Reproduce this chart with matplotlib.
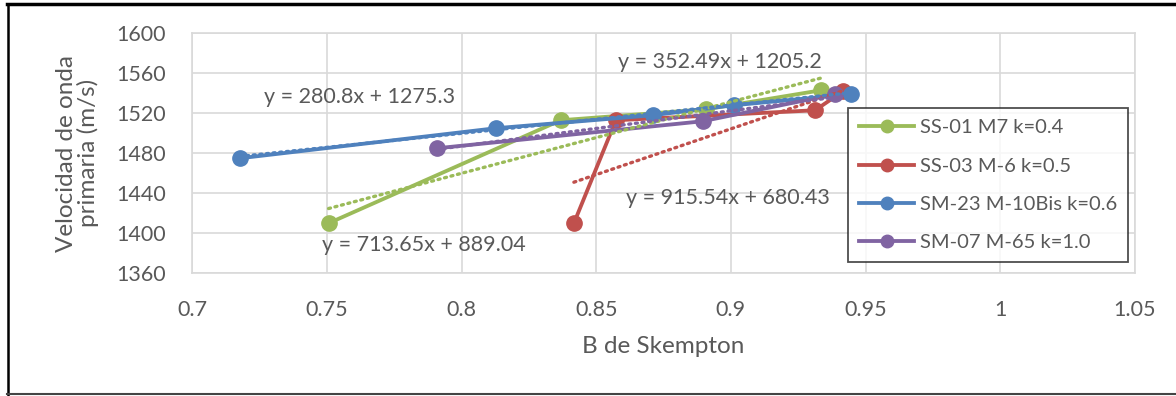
import matplotlib
matplotlib.use("Agg")
import matplotlib.pyplot as plt
import numpy as np
from matplotlib.lines import Line2D

plt.rcParams["font.family"] = ["Lato", "DejaVu Sans"]

# B de Skempton (x) vs velocidad de onda primaria (y)
ss01_x = [0.7506, 0.8368, 0.8907, 0.9335]
ss01_y = [1410, 1513, 1524, 1543]
ss03_x = [0.8417, 0.8573, 0.9313, 0.9416]
ss03_y = [1410, 1513, 1523, 1542]
sm23_x = [0.7177, 0.8126, 0.8709, 0.9010, 0.9447]
sm23_y = [1475, 1505, 1518, 1528, 1539]
sm07_x = [0.7909, 0.8895, 0.9385]
sm07_y = [1485, 1512, 1539]

labels = ["SS-01 M7 k=0.4", "SS-03 M-6 k=0.5", "SM-23 M-10Bis k=0.6", "SM-07 M-65 k=1.0"]
slopes = [713.65, 915.54, 280.8, 352.49]
intercepts = [889.04, 680.43, 1275.3, 1205.2]
eq_texts = ["y = 713.65x + 889.04", "y = 915.54x + 680.43",
            "y = 280.8x + 1275.3", "y = 352.49x + 1205.2"]
eq_pos = [(0.786, 1388), (0.899, 1435), (0.762, 1536), (0.896, 1571)]

colors = ["#9BBB59", "#C0504D", "#4F81BD", "#8064A2"]
text_color = "#595959"

series = [(ss01_x, ss01_y), (ss03_x, ss03_y), (sm23_x, sm23_y), (sm07_x, sm07_y)]

fig = plt.figure(figsize=(11.76, 3.96), dpi=100)
ax = fig.add_axes([0.1635, 0.31, 0.8015, 0.606])

for (xs, ys), c, lab in zip(series, colors, labels):
    ax.plot(xs, ys, color=c, lw=2.75, marker="o", ms=11, label=lab, zorder=3)

for (xs, ys), c, m, b in zip(series, colors, slopes, intercepts):
    tx = np.array([min(xs), max(xs)])
    ax.plot(tx, m * tx + b, color=c, lw=2.4, ls=(0, (0.6, 1.4)),
            dash_capstyle="round", zorder=4)

for t, (x, y) in zip(eq_texts, eq_pos):
    ax.text(x, y, t, color=text_color, fontsize=15.5, ha="center", va="center", zorder=5)

ax.set_xlim(0.7, 1.05)
ax.set_ylim(1360, 1600)
ax.set_xticks(np.arange(0.7, 1.051, 0.05))
ax.set_xticklabels(["0.7", "0.75", "0.8", "0.85", "0.9", "0.95", "1", "1.05"])
ax.set_yticks(np.arange(1360, 1601, 40))
ax.tick_params(colors=text_color, labelsize=15.5, length=0)
ax.tick_params(axis="x", pad=19)
ax.tick_params(axis="y", pad=19)
ax.grid(True, color="#D9D9D9", lw=1.2)
ax.set_axisbelow(True)
for s in ax.spines.values():
    s.set_color("#D9D9D9")
    s.set_linewidth(1.2)

ax.set_xlabel("B de Skempton", color=text_color, fontsize=17.5, labelpad=12)
ax.set_ylabel("Velocidad de onda\nprimaria (m/s)", color=text_color, fontsize=17.5,
              labelpad=12, linespacing=1.0)

handles = [Line2D([], [], color=c, lw=2.75, marker="o", ms=9) for c in colors]
leg = ax.legend(handles, labels, loc="upper left", bbox_to_anchor=(0.696, 0.6875),
                borderaxespad=0, fontsize=14.5, frameon=True, fancybox=False,
                labelspacing=1.05, handlelength=2.7, handletextpad=0.3,
                borderpad=0.55, labelcolor=text_color)
leg.get_frame().set_edgecolor("#222222")
leg.get_frame().set_linewidth(1.3)
leg.set_zorder(6)

# outer frame (top, left, bottom)
fig.add_artist(Line2D([0.006, 1.0], [0.99, 0.99], color="black", lw=2.5,
                      transform=fig.transFigure))
fig.add_artist(Line2D([0.007, 0.007], [0.0, 0.99], color="black", lw=1.8,
                      transform=fig.transFigure))
fig.add_artist(Line2D([0.006, 1.0], [0.004, 0.004], color="#444444", lw=1.5,
                      transform=fig.transFigure))

fig.savefig("out.png", dpi=100)
